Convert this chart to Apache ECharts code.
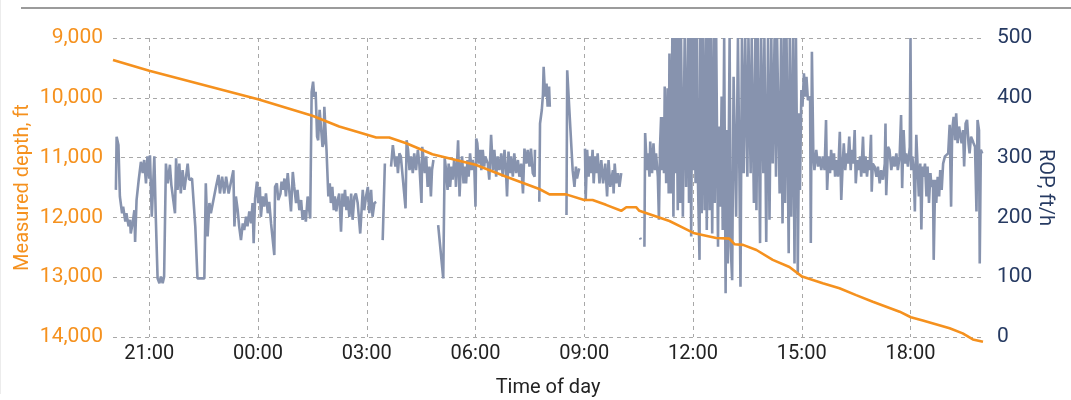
<!DOCTYPE html>
<html><head><meta charset="utf-8">
<script src="https://cdn.jsdelivr.net/npm/echarts@6.0.0/dist/echarts.min.js"></script>
<style>html,body{margin:0;padding:0;background:#fff;}#c{width:1071px;height:400px;}</style>
</head><body><div id="c"></div>
<script>
// Time in hours since midnight of day 1 (20 = 20:00, 44 = 20:00 next day)
const timeTickHours = [21, 24, 27, 30, 33, 36, 39, 42];
const depthTicks = [9000, 10000, 11000, 12000, 13000, 14000];
const ropTicks = [0, 100, 200, 300, 400, 500];

const depthHours = [20.0, 21.0, 24.0, 25.5, 26.24, 26.8, 27.26, 27.62, 28.09, 28.81, 30.0, 30.85, 31.76, 32.04, 32.5, 33.0, 33.23, 33.6, 34.02, 34.16, 34.43, 34.52, 35.35, 35.72, 36.01, 36.64, 37.0, 37.15, 37.38, 37.75, 38.2, 38.66, 39.01, 39.58, 40.04, 40.5, 40.96, 41.7, 42.01, 42.34, 43.08, 43.44, 43.72, 44.0];
const depthFeet = [9367, 9547, 10025, 10300, 10480, 10580, 10665, 10665, 10760, 10945, 11120, 11320, 11525, 11615, 11615, 11710, 11710, 11790, 11890, 11830, 11830, 11890, 12060, 12170, 12260, 12345, 12355, 12450, 12460, 12545, 12710, 12830, 12990, 13100, 13185, 13300, 13410, 13577, 13670, 13725, 13855, 13940, 14040, 14080];

// [hour, ROP ft/h]; null = gap in the record
const ropReadings = [
[20.08,246],[20.10,335],[20.15,321],[20.19,235],[20.25,207],[20.28,218],[20.34,193],[20.37,207],[20.43,185],[20.47,196],[20.49,173],[20.54,190],[20.59,212],[20.61,159],[20.65,229],[20.71,263],[20.77,293],[20.82,274],[20.86,296],[20.91,257],[20.95,302],[21.00,265],[21.02,304],[21.07,201],[21.14,302],[21.18,201],[21.23,98],[21.28,90],[21.32,101],[21.37,90],[21.41,101],[21.46,290],[21.51,257],[21.57,288],[21.61,254],[21.71,207],[21.74,299],[21.78,246],[21.83,290],[21.87,240],[21.92,279],[21.97,246],[22.06,290],[22.10,263],[22.18,265],[22.27,185],[22.33,98],[22.52,98],[22.56,257],[22.61,168],[22.66,224],[22.70,207],[22.84,251],[22.91,271],[22.95,240],[23.01,268],[23.07,240],[23.12,268],[23.19,240],[23.32,279],[23.35,185],
[23.39,235],[23.44,212],[23.48,185],[23.53,162],[23.58,190],[23.62,179],[23.67,201],[23.71,185],[23.76,210],[23.81,190],[23.85,224],[23.88,157],[23.92,232],[23.97,260],[24.01,224],[24.05,251],[24.08,201],[24.13,235],[24.17,218],[24.22,240],[24.27,207],[24.31,226],[24.36,190],[24.45,137],[24.47,251],[24.52,257],[24.56,229],[24.62,240],[24.65,260],[24.69,246],[24.73,265],[24.77,235],[24.82,274],[24.86,246],[24.91,210],[24.96,276],[25.00,251],[25.05,224],[25.09,246],[25.14,212],[25.19,229],[25.23,196],[25.28,212],[25.32,193],[25.37,235],[25.44,198],[25.48,410],[25.52,427],[25.55,402],[25.59,410],[25.63,335],[25.66,329],[25.70,380],[25.74,382],[25.78,318],[25.81,324],[25.83,385],[25.87,388],[25.89,313],[25.94,235],[25.98,257],[26.01,224],[26.05,251],[26.09,212],[26.12,235],[26.16,210],[26.20,229],[26.24,240],[26.29,176],[26.33,240],[26.36,218],[26.40,246],[26.44,212],[26.47,235],[26.52,201],[26.57,240],[26.61,196],[26.66,235],[26.70,240],[26.75,224],[26.82,173],
[26.89,246],[26.93,212],[26.98,235],[27.03,251],[27.07,207],[27.12,246],[27.16,201],[27.21,224],[27.26,226],[27.35,null],[27.44,162],[27.50,290],[27.58,null],[27.67,285],[27.72,321],[27.75,321],[27.79,285],[27.83,302],[27.86,274],[27.90,307],[27.94,302],[28.07,215],[28.10,329],[28.14,313],[28.18,279],[28.22,302],[28.27,274],[28.31,307],[28.36,279],[28.41,313],[28.45,290],[28.51,224],[28.53,318],[28.56,302],[28.60,274],[28.64,302],[28.68,251],[28.73,285],[28.77,235],[28.80,279],[28.84,296],[28.90,null],[28.97,187],[29.11,98],[29.15,299],[29.19,279],[29.23,246],[29.26,290],[29.30,251],[29.34,285],[29.37,263],[29.41,296],[29.45,268],[29.46,251],[29.52,329],[29.56,235],[29.59,279],[29.63,302],[29.67,257],[29.70,285],[29.74,257],[29.78,296],[29.81,268],[29.85,307],[29.89,279],[29.92,296],[29.97,279],[30.00,218],[30.02,332],[30.05,324],[30.09,290],[30.13,313],[30.16,279],[30.20,313],[30.24,285],[30.27,302],[30.34,290],
[30.38,263],[30.43,338],[30.48,279],[30.52,313],[30.57,268],[30.61,302],[30.66,279],[30.71,307],[30.75,268],[30.80,313],[30.84,279],[30.87,235],[30.91,310],[30.95,274],[30.98,302],[31.03,268],[31.07,307],[31.12,274],[31.17,296],[31.21,268],[31.26,290],[31.31,240],[31.35,315],[31.40,290],[31.44,313],[31.49,285],[31.53,315],[31.58,274],[31.63,268],[31.64,313],[31.70,null],[31.76,226],[31.78,357],[31.83,380],[31.86,405],[31.88,452],[31.92,402],[31.96,424],[31.99,385],[32.03,419],[32.05,385],[32.30,null],[32.51,204],[32.53,446],[32.62,346],[32.68,279],[32.73,251],[32.77,285],[32.80,265],[32.86,282],[32.94,null],[33.02,315],[33.04,229],[33.08,313],[33.12,268],[33.15,302],[33.19,274],[33.23,313],[33.26,257],[33.30,302],[33.34,274],[33.37,307],[33.42,257],[33.47,296],[33.52,257],[33.58,290],[33.63,235],[33.67,296],[33.72,251],[33.79,279],
[33.81,240],[33.84,290],[33.88,257],[33.93,274],[33.97,251],[34.02,274],[34.30,null],[34.54,166],[34.56,163],[34.60,null],[34.66,151],[34.68,341],[34.73,279],[34.76,307],[34.80,268],[34.82,327],[34.87,274],[34.91,324],[34.95,279],[34.98,307],[35.03,268],[35.06,196],[35.09,318],[35.12,368],[35.15,279],[35.17,368],[35.20,274],[35.22,419],[35.26,257],[35.30,416],[35.33,240],[35.35,474],[35.39,240],[35.43,500],[35.46,201],[35.49,500],[35.52,274],[35.54,500],[35.58,212],[35.61,500],[35.65,224],[35.67,500],[35.72,201],[35.77,500],[35.81,251],[35.86,500],[35.89,224],[35.92,500],[35.95,168],[35.98,500],[36.01,279],[36.04,500],[36.07,257],[36.11,500],[36.14,251],[36.18,129],[36.20,500],[36.24,207],[36.27,500],[36.32,212],[36.35,500],[36.38,179],[36.42,500],[36.46,212],[36.49,500],[36.53,173],[36.57,500],[36.60,224],[36.64,500],[36.69,151],[36.71,352],[36.75,218],[36.79,402],[36.82,179],[36.86,500],[36.90,73],[36.92,346],[36.96,123],[37.01,500],[37.04,151],[37.08,95],[37.12,435],
[37.19,201],[37.24,500],[37.28,274],[37.31,84],[37.35,500],[37.40,274],[37.44,500],[37.50,268],[37.53,500],[37.59,274],[37.62,500],[37.68,224],[37.72,500],[37.75,212],[37.79,500],[37.85,157],[37.88,500],[37.94,274],[37.97,500],[38.02,159],[38.07,500],[38.11,196],[38.16,500],[38.20,290],[38.25,500],[38.29,268],[38.32,500],[38.39,240],[38.43,500],[38.47,190],[38.51,500],[38.54,224],[38.58,500],[38.64,140],[38.67,500],[38.71,201],[38.76,500],[38.80,123],[38.84,500],[38.88,246],[38.89,104],[38.93,374],[38.95,246],[38.99,413],[39.02,385],[39.06,441],[39.10,402],[39.13,435],[39.17,396],[39.23,402],[39.25,157],[39.28,477],[39.32,304],[39.35,279],[39.40,313],[39.45,285],[39.49,302],[39.54,279],[39.58,302],[39.63,279],[39.67,363],[39.70,246],[39.74,302],[39.78,274],[39.81,313],[39.85,279],[39.89,307],[39.92,268],[39.96,296],[40.00,268],[40.05,343],[40.09,229],[40.13,290],[40.16,324],[40.20,279],[40.24,307],[40.27,290],[40.31,335],[40.35,279],[40.38,313],[40.42,290],[40.46,346],[40.49,257],[40.53,296],[40.57,279],[40.61,302],[40.64,268],[40.69,335],
[40.72,274],[40.76,302],[40.80,268],[40.84,296],[40.87,279],[40.91,338],[40.93,243],[40.96,290],[41.01,285],[41.06,268],[41.10,285],[41.15,257],[41.19,279],[41.24,263],[41.29,290],[41.31,357],[41.33,237],[41.38,318],[41.42,313],[41.47,279],[41.52,302],[41.56,285],[41.61,307],[41.65,279],[41.70,302],[41.74,371],[41.77,249],[41.81,346],[41.85,290],[41.88,307],[41.93,285],[41.98,318],[42.00,500],[42.02,279],[42.05,302],[42.09,279],[42.12,210],[42.16,338],[42.20,279],[42.23,235],[42.27,290],[42.30,180],[42.33,285],[42.36,268],[42.40,290],[42.44,235],[42.47,285],[42.51,224],[42.55,274],[42.58,251],[42.62,263],[42.64,129],[42.68,263],[42.71,224],[42.75,268],[42.79,235],[42.82,279],[42.86,246],[42.90,290],[42.95,302],[42.99,304],[43.04,307],[43.08,355],[43.12,218],[43.15,346],[43.19,368],[43.23,329],[43.26,374],[43.30,324],[43.34,352],[43.37,340],[43.41,324],[43.45,346],[43.48,285],[43.52,357],[43.56,363],[43.60,324],[43.63,307],[43.67,335],[43.71,329],[43.74,324],[43.78,318],[43.82,210],[43.85,363],[43.89,346],[43.91,123],[43.94,313],[43.98,307]
];

const FONT = "Roboto, 'Liberation Sans', sans-serif";
const ORANGE = '#F5911E';
const NAVY = '#263A62';
const ROPCOL = '#8793AE';

const pad = n => (n < 10 ? '0' : '') + n;
const chart = echarts.init(document.getElementById('c'), null, {renderer: 'canvas'});
chart.setOption({
  animation: false,
  backgroundColor: '#fff',
  grid: {left: 113, right: 88, top: 38, bottom: 63, containLabel: false, outerBoundsMode: 'none'},
  graphic: [
    {type: 'line', shape: {x1: 21, y1: 8, x2: 1071, y2: 8}, style: {stroke: '#9b9b9b', lineWidth: 2}, silent: true},
    {type: 'line', shape: {x1: 0.5, y1: 0, x2: 0.5, y2: 394}, style: {stroke: '#ececec', lineWidth: 1}, silent: true}
  ],
  xAxis: {
    type: 'value', min: 20, max: 44,
    name: 'Time of day', nameLocation: 'middle', nameGap: 41, nameMoveOverlap: false,
    nameTextStyle: {fontFamily: FONT, fontSize: 20, color: '#222'},
    axisLine: {show: false},
    axisTick: {show: false, customValues: timeTickHours},
    axisLabel: {customValues: timeTickHours, formatter: v => pad(v % 24) + ':00', fontFamily: FONT, fontSize: 20, color: '#222', margin: 7},
    splitLine: {show: true, lineStyle: {type: [4, 4], color: '#a8a8a8', width: 1}}
  },
  yAxis: [
    {
      type: 'value', inverse: true, min: depthTicks[0], max: depthTicks[depthTicks.length - 1], interval: 1000,
      position: 'left',
      name: 'Measured depth, ft', nameLocation: 'middle', nameGap: 80, nameMoveOverlap: false,
      nameTextStyle: {fontFamily: FONT, fontSize: 20, color: ORANGE},
      axisLine: {show: false}, axisTick: {show: false},
      axisLabel: {formatter: v => v.toLocaleString('en-US'), fontFamily: FONT, fontSize: 21, color: ORANGE, margin: 10},
      splitLine: {show: true, lineStyle: {type: [4, 4], color: '#a8a8a8', width: 1}}
    },
    {
      type: 'value', min: ropTicks[0], max: ropTicks[ropTicks.length - 1], interval: 100,
      position: 'right',
      name: 'ROP, ft/h', nameLocation: 'middle', nameGap: 52, nameRotate: -90, nameMoveOverlap: false,
      nameTextStyle: {fontFamily: FONT, fontSize: 20, color: NAVY},
      axisLine: {show: false}, axisTick: {show: false},
      axisLabel: {fontFamily: FONT, fontSize: 21, color: NAVY, margin: 14},
      splitLine: {show: false}
    }
  ],
  series: [
    {
      name: 'ROP', type: 'line', yAxisIndex: 1, z: 2,
      data: ropReadings.map(p => [p[0], p[1] === null ? '-' : p[1]]),
      showSymbol: false, connectNulls: false,
      lineStyle: {color: ROPCOL, width: 2.6}
    },
    {
      name: 'Depth', type: 'line', yAxisIndex: 0, z: 3, clip: false,
      data: depthHours.map((h, i) => [h, depthFeet[i]]),
      showSymbol: false,
      lineStyle: {color: ORANGE, width: 2.6}
    }
  ]
});
</script></body></html>
